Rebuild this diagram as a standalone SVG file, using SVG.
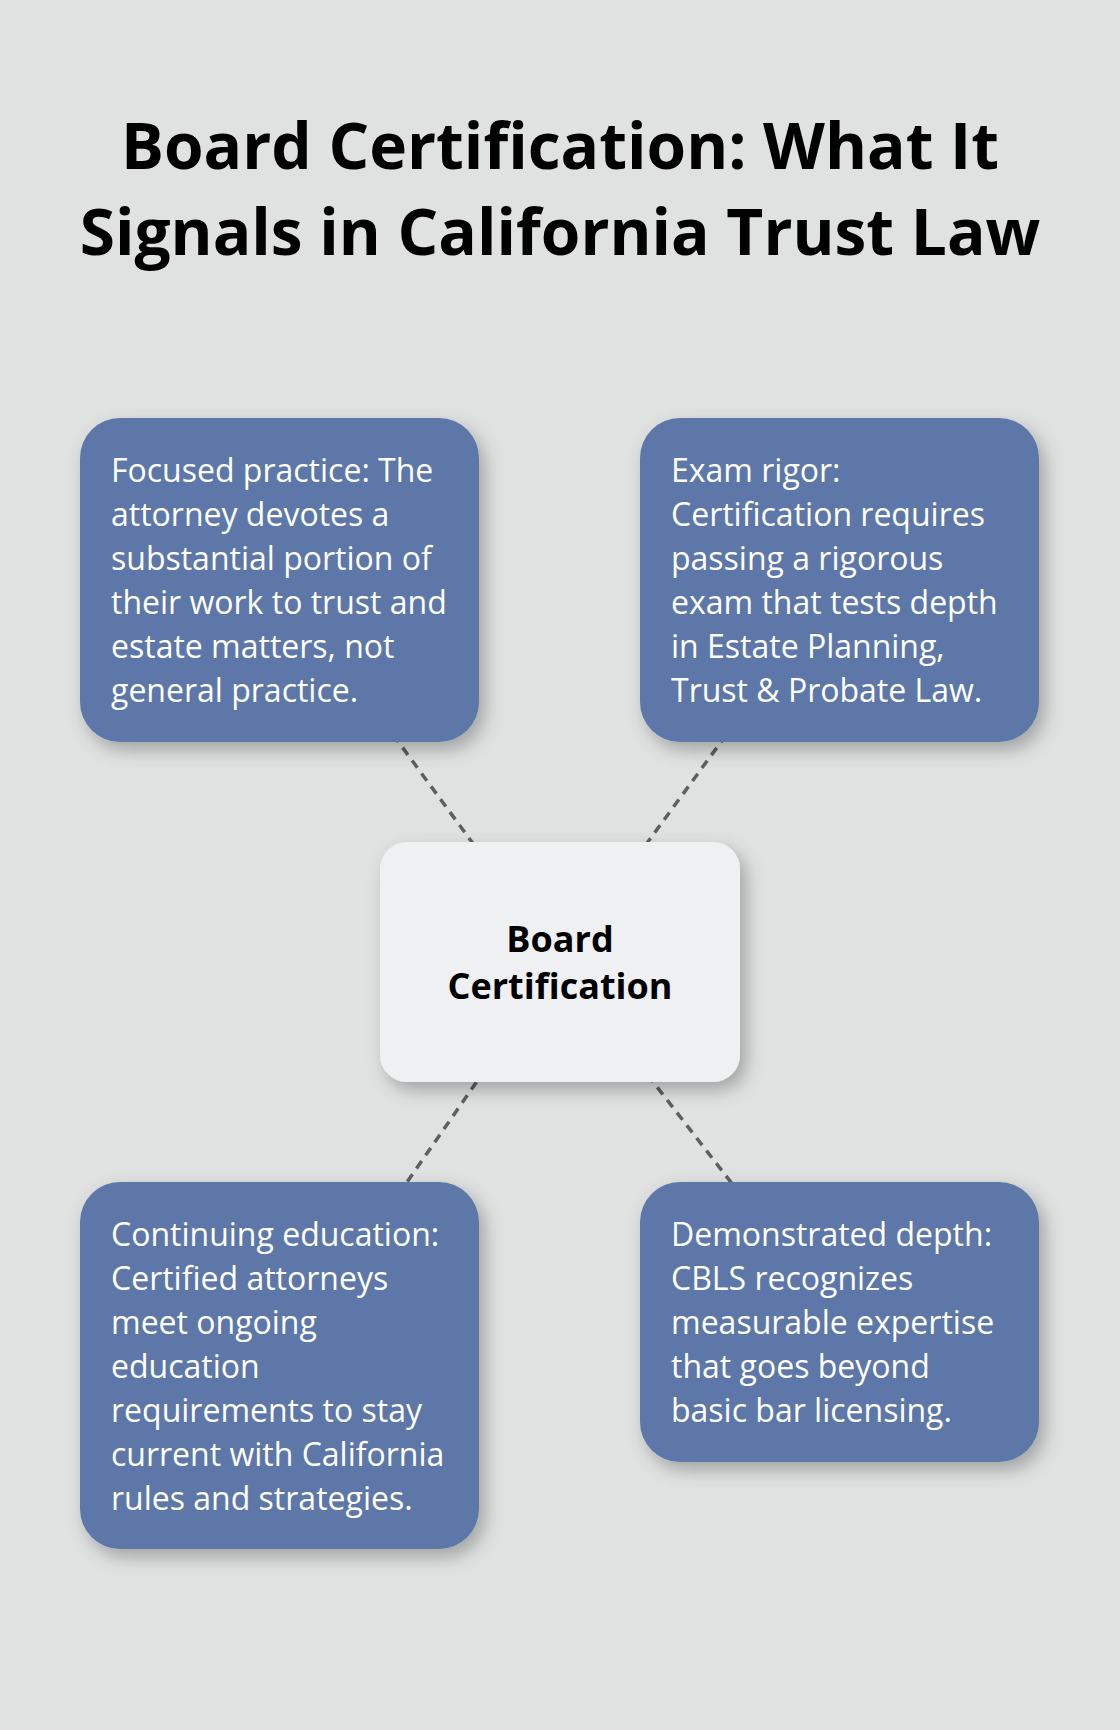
<svg xmlns="http://www.w3.org/2000/svg" width="1120" height="1730" viewBox="0 0 1120 1730">
<defs>
<filter id="sh" x="-20%" y="-20%" width="150%" height="150%">
<feDropShadow dx="6" dy="8" stdDeviation="9" flood-color="#000" flood-opacity="0.28"/>
</filter>
<style>
.title{font-family:"Open Sans","Noto Sans",sans-serif;font-weight:700;font-size:64px;fill:#000;text-anchor:middle}
.box{fill:#5d77a8;filter:url(#sh)}
.hub{fill:#eff0f2;filter:url(#sh)}
.t{font-family:"Open Sans","Noto Sans",sans-serif;font-size:32px;fill:#fff}
.ht{font-family:"Open Sans","Noto Sans",sans-serif;font-size:36px;font-weight:700;fill:#000;text-anchor:middle}
.c{stroke:#5f5f5f;stroke-width:3.5;stroke-dasharray:9 7;fill:none}
</style>
</defs>
<rect width="1120" height="1730" fill="#e0e2e1"/>
<g id="title">
<text class="title" x="560" y="169">Board Certification: What It</text>
<text class="title" x="560" y="255">Signals in California Trust Law</text>
</g>
<g id="connectors">
<line class="c" x1="279.5" y1="580" x2="560" y2="962"/>
<line class="c" x1="839.5" y1="580" x2="560" y2="962"/>
<line class="c" x1="279.5" y1="1365.5" x2="560" y2="962"/>
<line class="c" x1="839.5" y1="1322" x2="560" y2="962"/>
</g>
<g id="node-focused">
<rect class="box" x="80" y="418" width="399" height="324" rx="40"/>
<text class="t" x="111" y="482">Focused practice: The</text>
<text class="t" x="111" y="526">attorney devotes a</text>
<text class="t" x="111" y="570">substantial portion of</text>
<text class="t" x="111" y="614">their work to trust and</text>
<text class="t" x="111" y="658">estate matters, not</text>
<text class="t" x="111" y="702">general practice.</text>
</g>
<g id="node-exam">
<rect class="box" x="640" y="418" width="399" height="324" rx="40"/>
<text class="t" x="671" y="482">Exam rigor:</text>
<text class="t" x="671" y="526">Certification requires</text>
<text class="t" x="671" y="570">passing a rigorous</text>
<text class="t" x="671" y="614">exam that tests depth</text>
<text class="t" x="671" y="658">in Estate Planning,</text>
<text class="t" x="671" y="702">Trust &amp; Probate Law.</text>
</g>
<g id="node-center">
<rect class="hub" x="380" y="842" width="360" height="240" rx="27"/>
<text class="ht" x="560" y="952">Board</text>
<text class="ht" x="560" y="999">Certification</text>
</g>
<g id="node-continuing">
<rect class="box" x="80" y="1182" width="399" height="367" rx="40"/>
<text class="t" x="111" y="1246">Continuing education:</text>
<text class="t" x="111" y="1290">Certified attorneys</text>
<text class="t" x="111" y="1334">meet ongoing</text>
<text class="t" x="111" y="1378">education</text>
<text class="t" x="111" y="1422">requirements to stay</text>
<text class="t" x="111" y="1466">current with California</text>
<text class="t" x="111" y="1510">rules and strategies.</text>
</g>
<g id="node-demonstrated">
<rect class="box" x="640" y="1182" width="399" height="280" rx="40"/>
<text class="t" x="671" y="1246">Demonstrated depth:</text>
<text class="t" x="671" y="1290">CBLS recognizes</text>
<text class="t" x="671" y="1334">measurable expertise</text>
<text class="t" x="671" y="1378">that goes beyond</text>
<text class="t" x="671" y="1422">basic bar licensing.</text>
</g>
</svg>
